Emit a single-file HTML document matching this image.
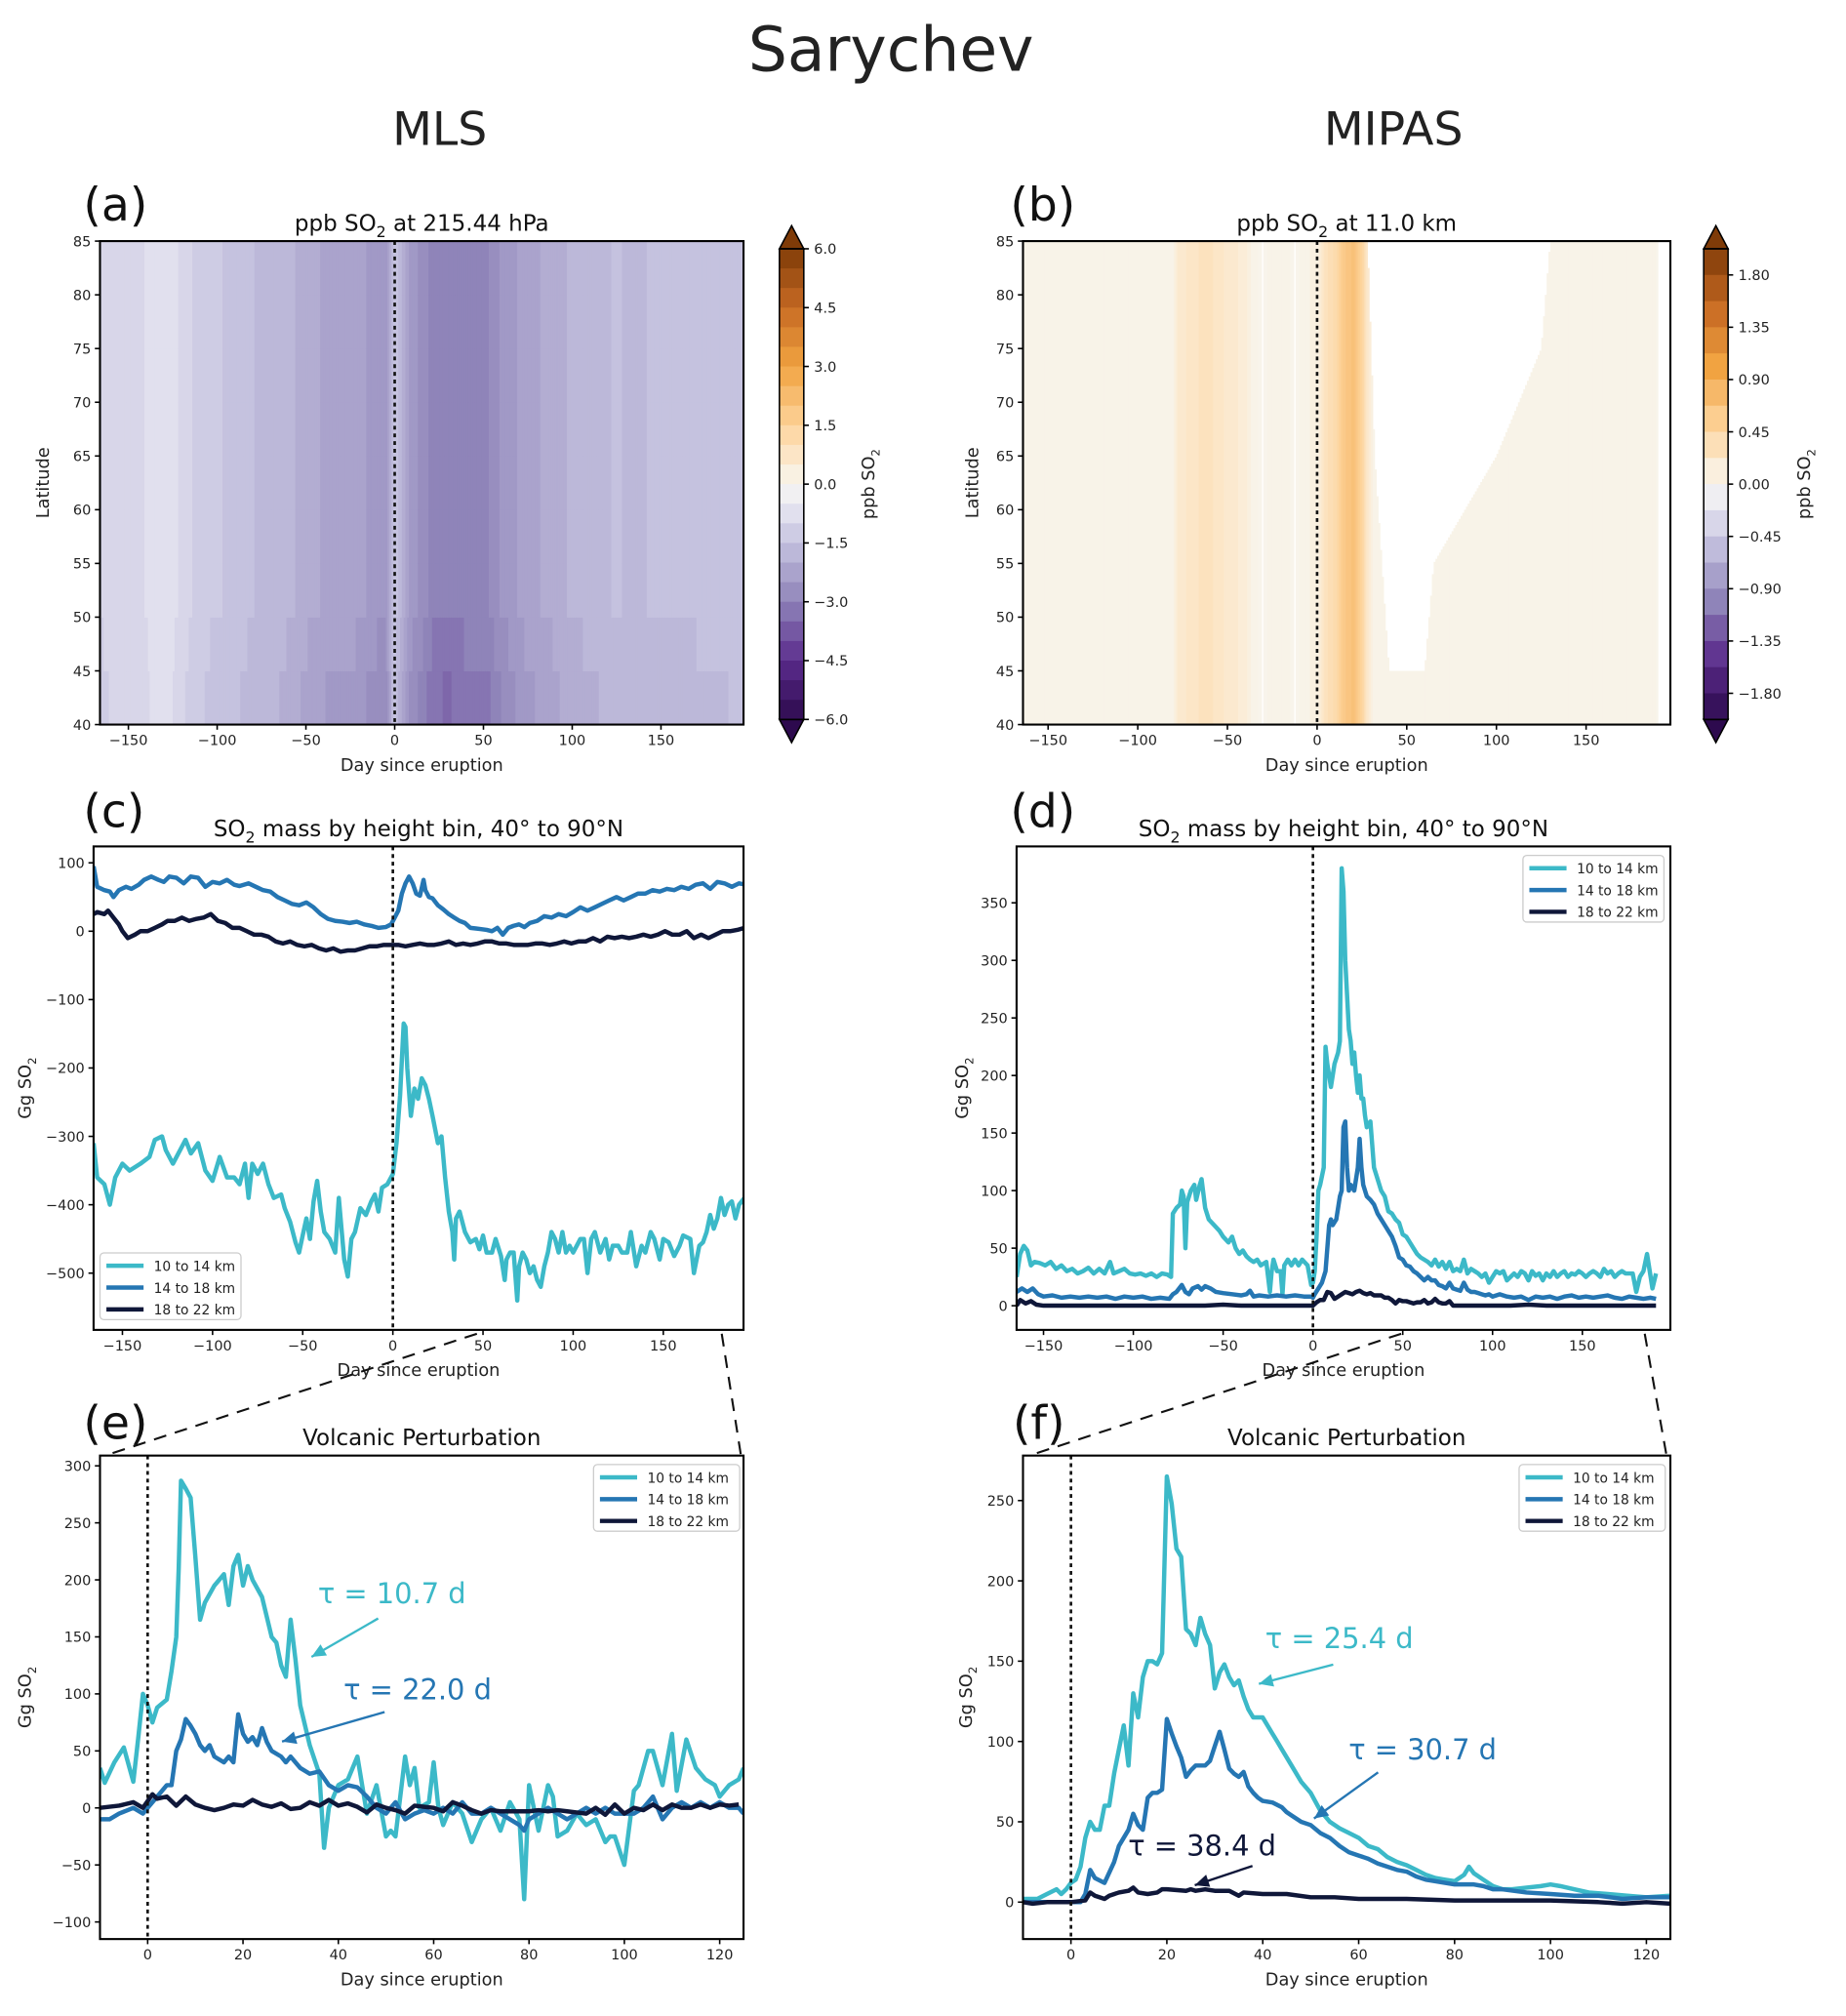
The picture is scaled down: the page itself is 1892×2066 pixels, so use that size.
<!DOCTYPE html>
<html><head><meta charset="utf-8"><title>Sarychev SO2</title>
<style>
html,body{margin:0;padding:0;background:#fff;}
svg{display:block;font-family:"DejaVu Sans","Liberation Sans",sans-serif;}
</style></head>
<body>
<svg id="fig" xmlns="http://www.w3.org/2000/svg" width="1892" height="2066" viewBox="0 0 1440 1572" preserveAspectRatio="none">
<rect x="0" y="0" width="1440" height="1572" fill="#fff"/>
<text x="695" y="55" font-size="48" text-anchor="middle" fill="#222">Sarychev</text>
<text x="343" y="113" font-size="36" text-anchor="middle" fill="#222">MLS</text>
<text x="1087" y="113" font-size="36" text-anchor="middle" fill="#222">MIPAS</text>
<g id="root"></g>
</svg>
<script>
// ---------- DATA ----------
const mlsDays = [-165,-155,-145,-135,-125,-115,-105,-95,-85,-75,-65,-55,-45,-35,-25,-15,-5,0,3,8,15,22,30,37,45,52,60,68,75,85,95,105,115,125,135,145,155,165,175,185,196];
const mlsVals = [-1.1,-0.9,-1.0,-0.7,-0.8,-1.1,-1.3,-1.4,-1.5,-1.7,-1.7,-1.9,-2.1,-2.2,-2.2,-2.4,-2.6,-1.3,-1.8,-2.4,-2.7,-3.0,-3.1,-3.0,-2.9,-2.9,-2.6,-2.4,-2.2,-2.1,-1.9,-1.8,-1.7,-1.6,-1.7,-1.6,-1.6,-1.6,-1.5,-1.5,-1.4];
const mipasDays = [-165,-80,-78,-70,-62,-55,-50,-45,-40,-36,-30,-25,-18,-12,-8,0,5,10,15,20,25,28,32,40,60,65,100,125,130,170,187,190,197];
const mipasVals = [0.05,0.05,0.18,0.25,0.3,0.25,0.2,0.18,0.15,0.05,0.0,0.05,0.05,0.0,0.05,0.1,0.3,0.4,0.6,0.7,0.5,0.2,0.03,0.03,0.03,0.03,0.03,0.05,0.05,0.05,0.05,0.0,0.0];
const mipasTop = [85,85,85,85,85,85,85,85,85,85,85,85,85,85,85,85,85,85,85,85,85,85,65,45,45,55,65,75,85,85,85,85,85];

const cCyanD = [-166,-164,-160,-157,-154,-150,-146,-140,-135,-132,-128,-126,-122,-118,-115,-112,-108,-104,-100,-96,-92,-88,-85,-82,-80,-78,-75,-72,-69,-66,-62,-60,-57,-54,-52,-50,-48,-46,-44,-42,-40,-38,-35,-32,-30,-27,-25,-23,-21,-18,-15,-12,-10,-8,-6,-3,0,2,4,6,7,8,10,12,14,16,18,20,22,25,27,29,31,33,34,35,37,40,43,46,48,50,52,55,57,60,62,63,65,67,69,70,72,74,76,78,80,82,84,86,88,90,92,94,96,98,100,102,104,106,108,110,112,115,118,120,122,125,127,130,132,135,138,140,143,145,148,150,153,156,159,161,165,167,170,172,174,176,178,180,182,184,186,188,190,192,195,198];
const cCyanV = [-310,-360,-370,-400,-360,-340,-350,-340,-330,-305,-300,-320,-340,-320,-305,-325,-310,-350,-365,-330,-360,-360,-370,-340,-390,-340,-355,-340,-370,-390,-385,-405,-425,-455,-470,-445,-420,-450,-395,-365,-410,-440,-450,-470,-390,-480,-505,-450,-440,-405,-415,-395,-385,-410,-375,-370,-355,-310,-240,-135,-140,-200,-270,-230,-245,-215,-225,-245,-270,-310,-300,-360,-410,-440,-480,-420,-410,-440,-455,-450,-465,-445,-470,-470,-450,-475,-510,-480,-470,-470,-540,-490,-470,-480,-500,-490,-510,-520,-490,-470,-440,-450,-470,-440,-470,-460,-470,-460,-450,-450,-500,-450,-440,-470,-450,-480,-460,-460,-470,-470,-440,-490,-460,-470,-440,-450,-480,-450,-455,-475,-460,-445,-450,-500,-460,-455,-440,-415,-435,-420,-390,-415,-400,-395,-420,-400,-390,-385];
const cBlueD = [-166,-164,-160,-157,-155,-152,-148,-145,-141,-138,-134,-130,-127,-124,-120,-116,-112,-108,-104,-100,-96,-92,-88,-85,-80,-76,-72,-68,-64,-60,-56,-52,-48,-44,-40,-36,-32,-28,-24,-20,-16,-12,-8,-4,-1,1,3,5,7,9,11,13,15,17,18,20,22,25,28,31,34,37,40,43,46,49,52,55,58,61,64,67,70,73,76,80,84,88,92,96,100,104,108,112,116,120,124,128,132,136,140,144,148,152,156,160,164,168,172,176,180,184,188,192,196,199];
const cBlueV = [95,65,60,58,50,60,65,62,68,75,80,75,72,80,78,70,80,78,65,72,70,75,68,66,70,65,60,58,50,45,40,38,42,35,25,18,15,14,12,14,10,8,5,6,10,20,30,55,70,80,70,55,52,75,60,50,48,38,32,25,20,15,12,5,4,3,2,0,5,-5,5,8,10,6,12,15,22,20,25,22,28,35,30,35,40,45,50,45,50,55,55,60,58,62,60,65,62,68,70,62,72,70,65,70,68,65];
const cDarkD = [-166,-164,-160,-158,-155,-152,-150,-147,-143,-140,-136,-132,-128,-125,-121,-117,-113,-109,-105,-101,-97,-93,-89,-85,-81,-77,-73,-69,-65,-61,-57,-53,-49,-45,-41,-37,-33,-29,-25,-21,-17,-13,-9,-5,-1,3,7,11,15,19,23,27,31,35,39,43,47,51,55,59,63,67,71,75,79,83,87,91,95,99,103,107,111,115,119,123,127,131,135,139,143,147,151,155,159,163,167,171,175,179,183,187,191,195,199];
const cDarkV = [25,28,25,30,20,10,0,-10,-5,0,0,5,10,15,15,20,15,18,20,25,15,12,5,5,0,-5,-5,-8,-15,-18,-15,-20,-22,-20,-25,-28,-25,-30,-28,-28,-25,-22,-22,-20,-20,-20,-22,-20,-18,-20,-20,-18,-15,-20,-18,-20,-18,-15,-15,-18,-18,-20,-20,-20,-18,-18,-20,-18,-15,-18,-15,-15,-10,-15,-8,-10,-8,-10,-8,-5,-8,-5,0,-5,-5,0,-10,-5,-10,-5,0,0,2,5,10];

const dCyanD = [-165,-163,-161,-159,-157,-155,-152,-149,-146,-143,-140,-137,-134,-131,-128,-125,-122,-119,-116,-113,-111,-108,-105,-102,-99,-96,-93,-90,-87,-84,-81,-79,-78,-76,-74,-73,-72,-71,-70,-68,-66,-65,-63,-62,-60,-58,-55,-52,-50,-47,-45,-43,-41,-39,-37,-35,-33,-31,-29,-26,-25,-24,-23,-22,-20,-18,-17,-16,-14,-12,-10,-8,-6,-3,-1,0,1,2,3,4,6,7,8,9,10,11,12,13,14,15,16,17,18,19,20,21,22,23,24,25,26,27,28,29,30,31,32,33,34,36,37,38,40,42,44,46,48,50,52,54,56,58,60,62,64,66,68,70,72,74,76,78,80,82,84,86,88,90,92,94,96,98,100,102,104,106,108,110,112,114,116,118,120,122,124,126,128,130,132,134,136,138,140,142,144,146,148,150,152,154,156,158,160,162,164,166,168,170,172,174,176,178,180,182,184,186,187,189,191];
const dCyanV = [25,45,52,48,35,38,37,35,38,32,35,30,32,28,30,33,28,32,28,38,28,30,32,28,27,28,26,28,25,28,27,25,80,85,88,100,95,50,90,100,105,92,105,110,85,75,70,65,60,55,60,50,45,48,43,40,38,40,35,38,25,12,30,40,30,30,10,35,40,35,40,35,40,35,18,20,30,60,100,105,120,225,210,200,190,200,210,215,220,230,380,360,300,270,240,230,210,220,200,185,200,180,180,165,155,158,160,140,120,110,105,100,95,82,80,75,72,62,60,55,50,45,42,40,38,35,40,34,38,32,38,30,32,30,40,28,32,30,28,25,28,20,25,30,28,30,22,25,28,25,30,28,22,30,26,28,22,28,25,30,25,28,30,25,28,27,30,28,25,28,30,28,25,32,28,30,25,28,30,28,28,28,12,25,30,45,35,15,28];
const dBlueD = [-165,-162,-159,-156,-153,-150,-145,-140,-135,-130,-125,-120,-115,-110,-105,-100,-95,-90,-85,-80,-78,-76,-73,-71,-69,-67,-64,-62,-60,-57,-54,-50,-45,-40,-37,-35,-33,-30,-25,-20,-15,-10,-5,-1,0,1,3,5,7,9,10,11,13,14,15,16,17,18,19,20,21,23,25,26,27,28,30,32,34,36,38,40,42,44,46,48,50,52,54,56,58,60,62,64,66,68,70,72,74,76,78,80,82,84,86,88,90,92,94,96,98,100,104,108,112,116,120,124,128,132,136,140,144,148,152,156,160,164,168,172,176,180,184,188,191];
const dBlueV = [12,15,12,15,10,8,9,7,8,7,8,7,8,6,8,7,8,6,7,6,10,12,18,12,10,15,17,14,17,15,12,11,10,9,10,13,8,9,8,9,8,9,8,8,7,10,15,20,30,70,75,70,75,85,95,100,155,160,120,100,105,100,120,145,120,105,95,92,88,80,75,70,65,60,52,42,40,35,34,30,28,25,22,25,22,22,18,17,15,20,15,14,13,20,14,12,12,11,10,9,10,8,10,8,7,8,5,8,7,8,6,8,9,7,8,7,8,9,7,6,8,7,6,7,6];
const dDarkD = [-165,-163,-160,-157,-154,-150,-140,-130,-120,-110,-100,-80,-60,-50,-40,-20,0,2,4,6,8,10,12,14,16,18,20,22,24,26,28,30,32,34,36,38,40,42,44,46,48,50,52,54,56,58,60,62,64,66,68,70,72,74,76,78,80,90,100,110,120,130,140,150,160,170,180,191];
const dDarkV = [0,5,2,4,1,0,0,0,0,0,0,0,0,1,0,0,0,3,5,5,12,11,6,8,10,12,11,10,12,13,11,10,11,9,9,9,7,7,5,2,5,4,4,3,2,3,3,5,2,3,6,3,2,2,4,0,0,0,0,0,1,0,0,0,0,0,0,0];

const eCyanD = [-10,-9,-7,-5,-3,-2,-1,0,1,2,4,5,6,6.5,7,8,9,10,11,12,14,15,16,17,18,19,20,21,22,24,26,27,28,29,30,31,32,34,36,37,38,40,42,44,45,46,48,50,51,52,54,55,56,57,59,60,61,62,64,66,68,70,72,74,76,78,79,80,81,82,84,85,86,88,90,92,94,96,97,98,100,102,103,105,106,108,110,111,113,115,117,119,120,122,124,125];
const eCyanV = [35,22,40,53,23,60,100,90,75,88,95,120,150,210,287,280,272,220,165,180,195,200,205,178,212,222,195,212,200,185,150,145,125,115,165,130,90,55,30,-35,0,20,25,45,20,-5,20,-25,-20,-25,45,20,35,0,5,40,0,-15,5,-5,-30,-10,0,-20,5,-10,-80,20,0,-20,20,10,-25,-20,-5,-15,-10,-30,-25,-25,-50,15,20,50,50,20,65,15,60,35,25,20,10,20,25,35];
const eBlueD = [-10,-8,-6,-3,-1,0,2,4,5,6,7,8,9,10,11,12,13,14,16,17,18,19,20,21,22,23,24,25,26,28,29,30,32,34,36,38,40,42,44,46,48,50,52,54,56,58,60,62,64,66,68,70,72,74,76,78,79,80,82,84,86,88,90,92,94,96,98,100,102,104,106,108,110,112,114,116,118,120,122,124,125];
const eBlueV = [-10,-10,-5,0,-5,0,10,20,20,50,60,78,72,65,55,50,55,45,40,45,40,82,65,58,62,55,70,58,50,45,40,45,35,30,32,20,15,20,18,10,0,-5,5,-10,-5,-2,-5,0,-5,5,-5,-5,0,-5,-10,-15,-20,-10,-5,0,-5,-10,-5,0,-5,0,-5,-5,-5,0,10,-10,0,5,0,5,0,5,0,0,-5];
const eDarkD = [-10,-6,-3,-1,1,2,4,6,8,10,12,14,16,18,20,22,24,26,28,30,32,34,36,38,40,42,44,46,48,50,52,54,56,58,60,62,64,66,68,70,72,74,76,78,80,82,84,86,88,90,92,94,96,98,100,102,104,106,108,110,112,114,116,118,120,122,124];
const eDarkV = [0,2,5,0,12,8,10,2,10,3,0,-2,0,3,2,7,3,1,4,-1,0,5,2,7,2,4,1,-4,3,0,-2,-5,2,1,0,-3,5,2,-2,-5,-2,-3,-3,-3,-3,-2,-3,-2,-3,-4,-5,0,-6,3,-5,0,-2,3,-2,3,0,0,3,0,3,2,3];

const fCyanD = [-10,-7,-5,-3,-2,-1,0,1,2,3,4,5,6,7,8,9,10,11,12,13,14,15,16,17,18,19,20,21,22,23,24,25,26,27,28,29,30,31,32,33,34,35,36,37,38,40,42,43,44,46,48,50,52,54,56,58,60,62,64,66,68,70,72,74,76,78,80,82,83,84,86,88,90,92,95,98,100,102,105,108,112,116,120,125];
const fCyanV = [2,2,5,8,5,8,12,14,22,40,50,45,45,60,60,80,95,110,85,130,115,140,150,150,148,155,265,248,220,215,170,167,160,177,167,160,133,143,148,140,135,138,128,120,115,115,105,100,95,85,75,68,57,50,46,43,40,35,33,28,25,23,20,17,15,14,13,17,22,18,14,10,8,8,9,10,11,10,8,6,5,4,3,4];
const fBlueD = [-10,-5,0,2,3,4,5,7,9,10,12,13,14,15,16,17,18,19,20,21,22,23,24,25,26,27,28,29,30,31,32,33,34,35,36,37,38,39,40,42,44,45,46,48,50,52,54,56,58,60,62,64,66,68,70,72,74,76,78,80,84,86,88,90,95,100,105,110,115,120,125];
const fBlueV = [0,0,0,0,5,20,15,12,25,35,45,55,48,45,65,68,68,70,114,105,97,90,78,82,85,85,85,88,97,106,95,83,80,78,81,72,68,65,63,62,59,56,54,50,48,43,40,35,31,29,27,24,22,20,19,16,14,13,12,11,11,10,8,8,6,5,4,4,2,3,3];
const fDarkD = [-10,-8,-5,0,3,4,5,7,8,10,12,13,14,16,18,19,20,24,25,26,28,30,33,35,36,40,45,50,55,60,65,70,80,90,100,110,115,120,125];
const fDarkV = [0,-1,0,0,1,6,4,2,4,6,7,9,6,5,6,8,8,7,8,7,8,7,7,4,6,5,5,3,3,2,2,2,1,1,1,0,-1,0,-1];

const dayTicksLong = [-150,-100,-50,0,50,100,150];
const dayTicksShort = [0,20,40,60,80,100,120];
const latTicks = [40,45,50,55,60,65,70,75,80,85];
const cTicks = [100,0,-100,-200,-300,-400,-500];
const dTicks = [0,50,100,150,200,250,300,350];
const eTicks = [300,250,200,150,100,50,0,-50,-100];
const fTicks = [0,50,100,150,200,250];
const mlsCbTicks = [6.0,4.5,3.0,1.5,0.0,-1.5,-3.0,-4.5,-6.0];
const mipasCbTicks = [1.80,1.35,0.90,0.45,0.00,-0.45,-0.90,-1.35,-1.80];

// ---------- helpers ----------
const NS = "http://www.w3.org/2000/svg";
const root = document.getElementById('root');
function el(tag, attrs, parent){
  const e = document.createElementNS(NS, tag);
  for (const k in attrs) e.setAttribute(k, attrs[k]);
  (parent||root).appendChild(e);
  return e;
}
function txt(s, attrs, parent){ const t = el('text', attrs, parent); t.textContent = s; return t; }
function fmtMinus(v, d){ const s = (d===undefined? String(v) : v.toFixed(d)); return s.replace('-', '\u2212'); }

const CYAN = '#3cb9c8', BLUE = '#2576b3', DARK = '#0f1739';

const stops = [[-1,[45,10,78]],[-0.75,[91,44,140]],[-0.5,[143,132,185]],[-0.25,[197,194,223]],[-0.08,[235,235,243]],[0,[247,246,240]],[0.08,[251,236,214]],[0.25,[253,211,154]],[0.5,[241,163,65]],[0.75,[199,106,35]],[1,[127,59,8]]];
function cmap(t){
  t = Math.max(-1, Math.min(1, t));
  for (let i=0;i<stops.length-1;i++){
    const a=stops[i], b=stops[i+1];
    if (t>=a[0] && t<=b[0]){
      const f=(t-a[0])/(b[0]-a[0]);
      const c=a[1].map((v,j)=>Math.round(v+(b[1][j]-v)*f));
      return 'rgb('+c.join(',')+')';
    }
  }
  return '#fff';
}
function interp(xs, ys, x){
  if (x<=xs[0]) return ys[0];
  for (let i=0;i<xs.length-1;i++) if (x<=xs[i+1]){ const f=(x-xs[i])/(xs[i+1]-xs[i]); return ys[i]+(ys[i+1]-ys[i])*f; }
  return ys[ys.length-1];
}

function makeAxes(o){
  const g = el('g', {});
  
  
  const sx = v => o.x + (v - o.xmin) / (o.xmax - o.xmin) * o.w;
  const sy = v => o.y + o.h - (v - o.ymin) / (o.ymax - o.ymin) * o.h;
  const cid = 'clip-' + o.name;
  const cp = el('clipPath', {id: cid}, g);
  el('rect', {x:o.x, y:o.y, width:o.w, height:o.h}, cp);
  const plot = el('g', {'clip-path':'url(#'+cid+')'}, g);
  
  
  return {g, plot, sx, sy, o};
}
function finishAxes(ax, xt, yt, ydec){
  const o = ax.o, g = ax.g;
  const zl = el('line', {x1:ax.sx(0), x2:ax.sx(0), y1:o.y, y2:o.y+o.h, stroke:'#111', 'stroke-width':2, 'stroke-dasharray':'3,3'}, g);
  
  
  const fr = el('rect', {x:o.x, y:o.y, width:o.w, height:o.h, fill:'none', stroke:'#000', 'stroke-width':1.6}, g);
  
  
  xt.forEach(v => {
    const X = ax.sx(v);
    el('line', {x1:X, x2:X, y1:o.y+o.h, y2:o.y+o.h+4, stroke:'#000', 'stroke-width':1.2}, g);
    const t = txt(fmtMinus(v), {x:X, y:o.y+o.h+16, 'font-size':11, 'text-anchor':'middle', fill:'#222'}, g);
    
    
  });
  yt.forEach(v => {
    const Y = ax.sy(v);
    el('line', {x1:o.x-4, x2:o.x, y1:Y, y2:Y, stroke:'#000', 'stroke-width':1.2}, g);
    const t = txt(fmtMinus(v, ydec), {x:o.x-7, y:Y+4, 'font-size':11, 'text-anchor':'end', fill:'#222'}, g);
    
    
  });
  const xl = txt('Day since eruption', {x:o.x+o.w/2, y:o.y+o.h+36, 'font-size':13.5, 'text-anchor':'middle', fill:'#222'}, g);
  
  
}
function yTitle(ax, label, x){
  const o = ax.o;
  const t = el('text', {x:0, y:0, 'font-size':13.5, 'text-anchor':'middle', fill:'#222', transform:'translate('+x+','+(o.y+o.h/2)+') rotate(-90)'}, ax.g);
  
  
  if (label === 'Gg'){
    t.appendChild(document.createTextNode('Gg SO'));
    const s = el('tspan', {'font-size':9, dy:4}, t); s.textContent = '2';
  } else t.textContent = label;
}
function title(ax, main, so2){
  const o = ax.o;
  const t = el('text', {x:o.x+o.w/2, y:o.y-8, 'font-size':17.5, 'text-anchor':'middle', fill:'#111'}, ax.g);
  
  
  if (so2){
    const parts = main.split('SO2');
    t.appendChild(document.createTextNode(parts[0] + 'SO'));
    const s = el('tspan', {'font-size':12, dy:5}, t); s.textContent = '2';
    const r = el('tspan', {dy:-5}, t); r.textContent = parts[1];
  } else t.textContent = main;
}
function panelLetter(s, x, y){
  const t = txt(s, {x:x, y:y, 'font-size':36, fill:'#111'});
  
  
}
function series(ax, xs, ys, color, name){
  const d = xs.map((v,i)=>(i?'L':'M')+ax.sx(v).toFixed(1)+','+ax.sy(ys[i]).toFixed(1)).join(' ');
  const p = el('path', {d:d, fill:'none', stroke:color, 'stroke-width':3.4, 'stroke-linejoin':'round'}, ax.plot);
  
  
}
function legend(x, y, w){
  const g = el('g', {});
  
  
  el('rect', {x:x, y:y, width:w, height:52, rx:3, fill:'#fff', 'fill-opacity':0.85, stroke:'#ccc', 'stroke-width':1}, g);
  [['10 to 14 km',CYAN],['14 to 18 km',BLUE],['18 to 22 km',DARK]].forEach((e,i)=>{
    const yy = y + 10 + i*17;
    const ln = el('line', {x1:x+5, x2:x+34, y1:yy, y2:yy, stroke:e[1], 'stroke-width':3.4}, g);
    
    
    const t = txt(e[0], {x:x+42, y:yy+4, 'font-size':10.5, fill:'#222'}, g);
    
    
  });
}
function colorbar(x, y0, y1, vmax, ticks, dec, nb, labelX, name){
  const g = el('g', {});
  
  
  const w = 19, h = y1-y0, bh = h/nb;
  for (let i=0;i<nb;i++){
    const vmid = vmax - (i+0.5)*(2*vmax/nb);
    el('rect', {x:x, y:y0+i*bh, width:w, height:bh+0.5, fill:cmap(vmid/vmax)}, g);
  }
  el('polygon', {points:x+','+y0+' '+(x+w)+','+y0+' '+(x+w/2)+','+(y0-18), fill:cmap(1), stroke:'#000', 'stroke-width':1.2}, g);
  el('polygon', {points:x+','+y1+' '+(x+w)+','+y1+' '+(x+w/2)+','+(y1+18), fill:cmap(-1), stroke:'#000', 'stroke-width':1.2}, g);
  el('rect', {x:x, y:y0, width:w, height:h, fill:'none', stroke:'#000', 'stroke-width':1.2}, g);
  ticks.forEach(v=>{
    const Y = y0 + (vmax - v)/(2*vmax)*h;
    el('line', {x1:x+w, x2:x+w+4, y1:Y, y2:Y, stroke:'#000', 'stroke-width':1.2}, g);
    const t = txt(fmtMinus(v, dec), {x:x+w+8, y:Y+4, 'font-size':11, fill:'#222'}, g);
    
    
  });
  const t = el('text', {x:0, y:0, 'font-size':13.5, 'text-anchor':'middle', fill:'#222', transform:'translate('+labelX+','+((y0+y1)/2)+') rotate(-90)'}, g);
  
  
  t.appendChild(document.createTextNode('ppb SO'));
  const s = el('tspan', {'font-size':9, dy:4}, t); s.textContent = '2';
}
function annot(s, x, y, color, ax1, ay1, ax2, ay2){
  const g = el('g', {});
  
  
  txt(s, {x:x, y:y, 'font-size':22, fill:color}, g);
  el('line', {x1:ax1, y1:ay1, x2:ax2, y2:ay2, stroke:color, 'stroke-width':1.8}, g);
  const ang = Math.atan2(ay2-ay1, ax2-ax1), L=11, Wd=5;
  const bx = ax2 - L*Math.cos(ang), by = ay2 - L*Math.sin(ang);
  const px = -Math.sin(ang)*Wd, py = Math.cos(ang)*Wd;
  el('polygon', {points:ax2+','+ay2+' '+(bx+px)+','+(by+py)+' '+(bx-px)+','+(by-py), fill:color}, g);
}

// ---------- Panel (a) ----------
panelLetter('(a)', 65, 172);
const A = makeAxes({name:'panel-a-mls-heatmap', x:78, y:188, w:502, h:377, xmin:-166, xmax:196.5, ymin:40, ymax:85});
for (let d=-166; d<197; d++){
  const v = interp(mlsDays, mlsVals, d+0.5);
  for (let lat=40; lat<85; lat+=5){
    const m = v * (1 + (lat<50 ? (50-lat)*0.01 : 0));
    const q = Math.round(m*4)/4;
    el('rect', {x:A.sx(d), y:A.sy(lat+5), width:A.sx(d+1)-A.sx(d)+0.4, height:A.sy(lat)-A.sy(lat+5)+0.4, fill:cmap(q/6)}, A.plot);
  }
}
title(A, 'ppb SO2 at 215.44 hPa', true);
finishAxes(A, dayTicksLong, latTicks);
yTitle(A, 'Latitude', 38);
colorbar(608, 194, 561, 6, mlsCbTicks, 1, 24, 682, 'mls-colorbar');

// ---------- Panel (b) ----------
panelLetter('(b)', 788, 172);
const B = makeAxes({name:'panel-b-mipas-heatmap', x:798, y:188, w:505, h:377, xmin:-164, xmax:197, ymin:40, ymax:85});
for (let d=-164; d<197; d++){
  const v = interp(mipasDays, mipasVals, d+0.5);
  const top = interp(mipasDays, mipasTop, d+0.5);
  if (v <= 0.005) continue;
  const q = Math.round(v*20)/20 || 0.03;
  el('rect', {x:B.sx(d), y:B.sy(Math.min(85, top)), width:B.sx(d+1)-B.sx(d)+0.4, height:B.sy(40)-B.sy(Math.min(85, top)), fill:cmap(q/2.025)}, B.plot);
}
title(B, 'ppb SO2 at 11.0 km', true);
finishAxes(B, dayTicksLong, latTicks);
yTitle(B, 'Latitude', 763);
colorbar(1329, 194, 561, 2.025, mipasCbTicks, 2, 18, 1412, 'mipas-colorbar');

// ---------- Panel (c) ----------
panelLetter('(c)', 65, 645);
const C = makeAxes({name:'panel-c-mls-mass', x:73, y:660, w:507, h:377, xmin:-166, xmax:194.5, ymin:-583, ymax:124});
series(C, cCyanD, cCyanV, CYAN, 'series-10-14km');
series(C, cBlueD, cBlueV, BLUE, 'series-14-18km');
series(C, cDarkD, cDarkV, DARK, 'series-18-22km');
title(C, 'SO2 mass by height bin, 40° to 90°N', true);
finishAxes(C, dayTicksLong, cTicks);
yTitle(C, 'Gg', 24);
legend(78, 977, 110);

// ---------- Panel (d) ----------
panelLetter('(d)', 788, 645);
const D = makeAxes({name:'panel-d-mipas-mass', x:793, y:660, w:510, h:377, xmin:-165, xmax:199, ymin:-21, ymax:399});
series(D, dCyanD, dCyanV, CYAN, 'series-10-14km');
series(D, dBlueD, dBlueV, BLUE, 'series-14-18km');
series(D, dDarkD, dDarkV, DARK, 'series-18-22km');
title(D, 'SO2 mass by height bin, 40° to 90°N', true);
finishAxes(D, dayTicksLong, dTicks);
yTitle(D, 'Gg', 755);
legend(1188, 667, 110);

[[372,1040,82,1135],[563,1040,578,1135],[1093,1040,803,1135],[1283,1040,1300,1135]].forEach(p=>{
  const l = el('line', {x1:p[0], y1:p[1], x2:p[2], y2:p[3], stroke:'#111', 'stroke-width':1.6, 'stroke-dasharray':'10,7'});
  
  
});

// ---------- Panel (e) ----------
panelLetter('(e)', 65, 1122);
const E = makeAxes({name:'panel-e-mls-perturbation', x:78, y:1135, w:502, h:377, xmin:-10, xmax:125, ymin:-115, ymax:309});
series(E, eCyanD, eCyanV, CYAN, 'series-10-14km');
series(E, eBlueD, eBlueV, BLUE, 'series-14-18km');
series(E, eDarkD, eDarkV, DARK, 'series-18-22km');
title(E, 'Volcanic Perturbation', false);
finishAxes(E, dayTicksShort, eTicks);
yTitle(E, 'Gg', 24);
legend(463, 1142, 114);
annot('\u03c4 = 10.7 d', 248, 1250, CYAN, 295, 1262, 243, 1292);
annot('\u03c4 = 22.0 d', 268, 1325, BLUE, 300, 1335, 220, 1358);

// ---------- Panel (f) ----------
panelLetter('(f)', 790, 1122);
const F = makeAxes({name:'panel-f-mipas-perturbation', x:798, y:1135, w:505, h:377, xmin:-10, xmax:125, ymin:-23, ymax:278});
series(F, fCyanD, fCyanV, CYAN, 'series-10-14km');
series(F, fBlueD, fBlueV, BLUE, 'series-14-18km');
series(F, fDarkD, fDarkV, DARK, 'series-18-22km');
title(F, 'Volcanic Perturbation', false);
finishAxes(F, dayTicksShort, fTicks);
yTitle(F, 'Gg', 758);
legend(1185, 1142, 114);
annot('\u03c4 = 25.4 d', 987, 1285, CYAN, 1040, 1298, 982, 1313);
annot('\u03c4 = 30.7 d', 1052, 1372, BLUE, 1075, 1382, 1025, 1418);
annot('\u03c4 = 38.4 d', 880, 1447, DARK, 977, 1455, 932, 1470);
</script>
</body></html>
